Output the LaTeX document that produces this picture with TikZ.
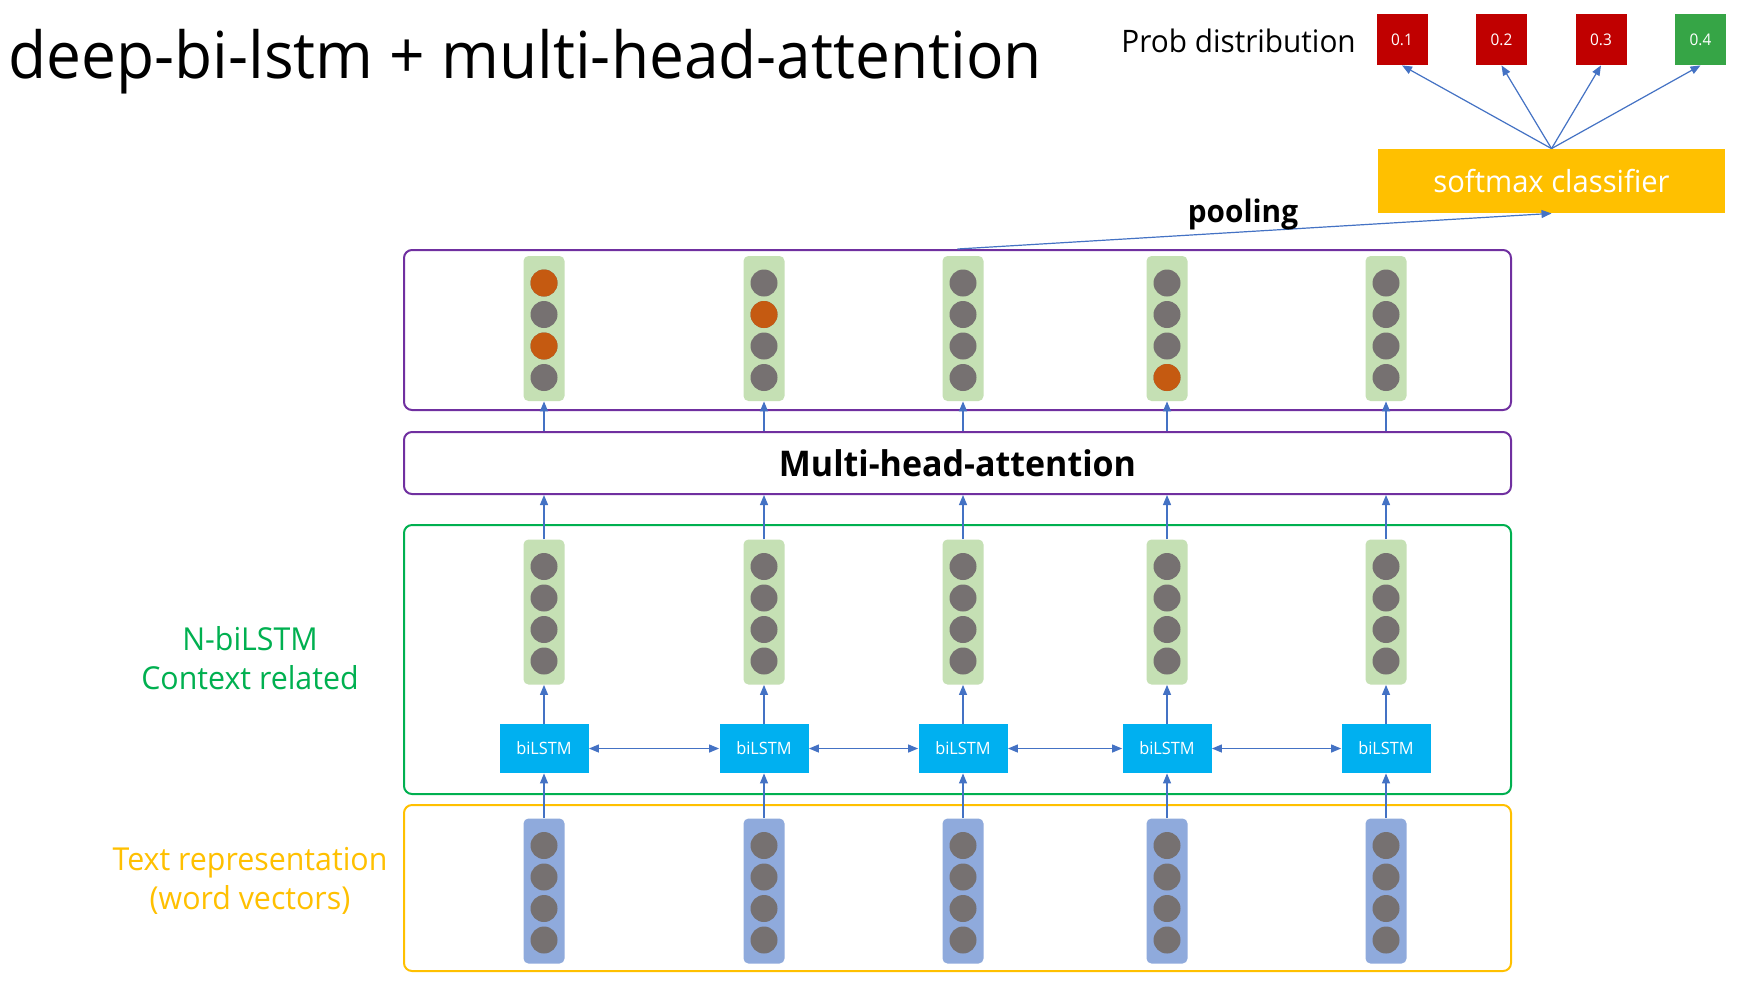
\documentclass[tikz,border=0pt]{standalone}
\usepackage{fontspec}
\setmainfont{Open Sans}[FakeStretch=0.96]
\usetikzlibrary{positioning,arrows.meta,calc}

\definecolor{linkblue}{HTML}{4472C4}
\definecolor{boxpurple}{HTML}{7030A0}
\definecolor{boxgreen}{HTML}{00B050}
\definecolor{boxyellow}{HTML}{FFC000}
\definecolor{bargreen}{HTML}{C5E0B4}
\definecolor{barblue}{HTML}{8FAADC}
\definecolor{dotgrey}{HTML}{767171}
\definecolor{dotorange}{HTML}{C55A11}
\definecolor{lstmblue}{HTML}{00B0F0}
\definecolor{probred}{HTML}{C00000}
\definecolor{probgreen}{HTML}{36A546}

\begin{document}
\begin{tikzpicture}[x=0.5pt,y=-0.5pt,
    bar/.style={rounded corners=2.5pt,minimum width=20.5pt,minimum height=72.5pt,inner sep=0pt},
    dot/.style={circle,fill=dotgrey,minimum size=13.5pt,inner sep=0pt},
    lstm/.style={fill=lstmblue,text=white,minimum width=44.5pt,minimum height=24.5pt,inner sep=0pt,font=\fontsize{8.5}{10}\selectfont},
    layer/.style={draw,rounded corners=4pt,line width=1pt,minimum width=553.5pt,inner sep=0pt},
    prob/.style={minimum size=25.5pt,inner sep=0pt,text=white,font=\fontsize{8}{9}\selectfont},
    link/.style={-{Triangle[length=5pt,width=4pt]},draw=linkblue,line width=0.6pt},
    both/.style={{Triangle[length=5pt,width=4pt]}-{Triangle[length=5pt,width=4pt]},draw=linkblue,line width=0.6pt},
    node distance=49.75pt,on grid]
    \useasboundingbox[fill=white] (0,0) rectangle (1749,982);

    % title
    \node[anchor=base west,inner sep=0pt,font=\fontsize{32.4}{35}\selectfont] (title) at (8,78) {deep-bi-lstm + multi-head-attention};

    % layer boxes
    \node[layer,draw=boxpurple,minimum height=80pt] (top) at (957.5,330) {};
    \node[layer,draw=boxpurple,minimum height=31pt,font=\fontsize{17.7}{20}\bfseries] (mha) at (957.5,463) {Multi-head-attention};
    \node[layer,draw=boxgreen,minimum height=134.5pt] (ctx) at (957.5,659.5) {};
    \node[layer,draw=boxyellow,minimum height=83pt] (emb) at (957.5,888) {};

    \node[align=center,text=boxgreen,font=\fontsize{15.8}{19.5}\selectfont] (ctxlabel) at (250,658) {N-biLSTM\\Context related};
    \node[align=center,text=boxyellow,font=\fontsize{15.8}{19.5}\selectfont] (emblabel) at (250,881) {Text representation\\(word vectors)};

    % columns
    \foreach \x [count=\i] in {544,764,963,1167,1386} {
        \node[bar,fill=barblue] (w\i) at (\x,891) {};
        \node[lstm] (l\i) at (\x,748.5) {biLSTM};
        \node[bar,fill=bargreen] (h\i) at (\x,612) {};
        \node[bar,fill=bargreen] (a\i) at (\x,328.5) {};
        \foreach \b in {w,h,a}
            \foreach \dy [count=\k] in {-45.5,-14,17.5,49}
                \node[dot] (\b\i-\k) at ($(\b\i)+(0,\dy)$) {};
        \draw[link] (w\i.north) -- (l\i.south);
        \draw[link] (l\i.north) -- (h\i.south);
        \draw[link] (h\i.north) -- (h\i.north |- mha.south);
        \draw[link] (a\i.south |- mha.north) -- (a\i.south);
    }
    \foreach \n in {a1-1,a1-3,a2-2,a4-4}
        \node[dot,fill=dotorange] at (\n) {};
    \foreach \i [evaluate=\i as \j using int(\i+1)] in {1,...,4}
        \draw[both] (l\i.east) -- (l\j.west);

    % classifier
    \node[fill=boxyellow,text=white,minimum width=173.5pt,minimum height=32pt,inner sep=0pt,font=\fontsize{15.2}{17}\selectfont] (sm) at (1551.5,181) {softmax classifier};
    \node[prob,fill=probred] (p1) at (1402,39.5) {0.1};
    \node[prob,fill=probred] (p2) [right=of p1] {0.2};
    \node[prob,fill=probred] (p3) [right=of p2] {0.3};
    \node[prob,fill=probgreen] (p4) [right=of p3] {0.4};
    \node[anchor=base west,inner sep=0pt,font=\fontsize{15.5}{18}\selectfont] (problabel) at (1121,52) {Prob distribution};
    \foreach \n in {p1,p2,p3,p4}
        \draw[link] (sm.north) -- (\n.south);

    \draw[link] (top.north) -- (sm.south);
    \node[anchor=base,inner sep=0pt,font=\fontsize{15.5}{17}\bfseries] (pool) at (1243,222) {pooling};
\end{tikzpicture}
\end{document}
